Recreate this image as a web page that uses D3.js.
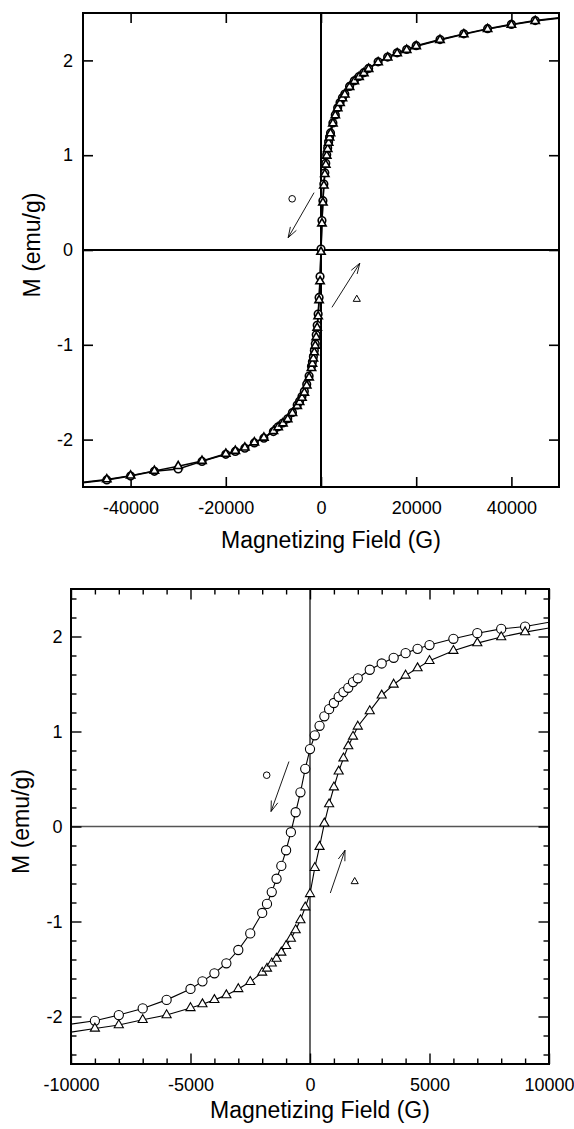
<!DOCTYPE html>
<html><head><meta charset="utf-8">
<script src="https://cdn.jsdelivr.net/npm/d3@7"></script>
<style>
html,body{margin:0;padding:0;background:#fff;}
svg{display:block;font-family:"Liberation Sans",Arial,Helvetica,sans-serif;}
</style></head><body>
<svg id="chart" width="574" height="1129"></svg>
<script>
// ---------- DATA ----------
// Top panel (full field range)
const topField = [-50000,-45000,-40000,-35000,-30000,-25000,-20000,-18000,-16000,-14000,-12000,-10000,-9000,-8000,-7000,-6000,-5000,-4500,-4000,-3500,-3000,-2500,-2000,-1800,-1600,-1400,-1200,-1000,-800,-600,-400,-200,0,200,400,600,800,1000,1200,1400,1600,1800,2000,2500,3000,3500,4000,4500,5000,6000,7000,8000,9000,10000,12000,14000,16000,18000,20000,25000,30000,35000,40000,45000,50000];
const topDescM = [-2.455,-2.425,-2.385,-2.335,-2.31,-2.23,-2.155,-2.125,-2.09,-2.035,-1.985,-1.915,-1.865,-1.825,-1.78,-1.715,-1.635,-1.595,-1.545,-1.49,-1.415,-1.33,-1.225,-1.18,-1.125,-1.06,-0.99,-0.895,-0.795,-0.675,-0.50,-0.28,0.01,0.31,0.52,0.695,0.815,0.915,1.005,1.075,1.14,1.19,1.235,1.34,1.425,1.50,1.555,1.605,1.645,1.725,1.785,1.83,1.87,1.915,1.985,2.035,2.08,2.115,2.155,2.22,2.28,2.335,2.38,2.42,2.45];
const topAscM = [-2.45,-2.42,-2.38,-2.33,-2.28,-2.225,-2.15,-2.12,-2.085,-2.03,-1.98,-1.91,-1.87,-1.83,-1.785,-1.72,-1.645,-1.605,-1.56,-1.505,-1.43,-1.345,-1.245,-1.20,-1.145,-1.08,-1.01,-0.92,-0.82,-0.70,-0.53,-0.33,-0.02,0.28,0.50,0.68,0.80,0.90,0.995,1.065,1.13,1.185,1.23,1.335,1.42,1.495,1.55,1.60,1.64,1.72,1.78,1.825,1.865,1.91,1.98,2.03,2.075,2.11,2.15,2.215,2.275,2.33,2.375,2.415,2.445];
const topXTicks = [-40000,-20000,0,20000,40000];
const topYTicks = [-2,-1,0,1,2];

// Bottom panel (low-field detail)
const botField = [-10000,-9000,-8000,-7000,-6000,-5000,-4500,-4000,-3500,-3000,-2500,-2000,-1800,-1600,-1400,-1200,-1000,-800,-600,-400,-200,0,200,400,600,800,1000,1200,1400,1600,1800,2000,2500,3000,3500,4000,4500,5000,6000,7000,8000,9000,10000];
const botDescM = [-2.08,-2.045,-1.985,-1.915,-1.825,-1.71,-1.63,-1.545,-1.44,-1.30,-1.125,-0.91,-0.815,-0.69,-0.55,-0.415,-0.25,-0.06,0.15,0.36,0.607,0.815,0.96,1.06,1.16,1.235,1.30,1.365,1.415,1.46,1.52,1.56,1.65,1.716,1.776,1.825,1.87,1.91,1.976,2.035,2.08,2.105,2.15];
const botAscM = [-2.165,-2.126,-2.09,-2.035,-1.985,-1.91,-1.87,-1.825,-1.775,-1.71,-1.635,-1.537,-1.495,-1.44,-1.39,-1.326,-1.256,-1.18,-1.09,-0.985,-0.85,-0.71,-0.435,-0.213,0.033,0.235,0.413,0.58,0.718,0.846,0.947,1.053,1.215,1.38,1.495,1.59,1.667,1.744,1.85,1.93,1.994,2.046,2.09];
const botXTicks = [-10000,-5000,0,5000,10000];
const botXMinor = [-9000,-8000,-7000,-6000,-4000,-3000,-2000,-1000,1000,2000,3000,4000,6000,7000,8000,9000];
const botYTicks = [-2,-1,0,1,2];
const botYMinor = [-2.4,-2.2,-1.8,-1.6,-1.4,-1.2,-0.8,-0.6,-0.4,-0.2,0.2,0.4,0.6,0.8,1.2,1.4,1.6,1.8,2.2,2.4];

// Annotations (data coordinates)
const topLegendCircle = [-6060, 0.54];
const topLegendTriangle = [7520, -0.52];
const topArrowDown = [[-1460, 0.605], [-6900, 0.13]];
const topArrowUp = [[2300, -0.605], [8150, -0.14]];
const botLegendCircle = [-1812, 0.54];
const botLegendTriangle = [1870, -0.58];
const botArrowDown = [[-880, 0.684], [-1630, 0.158]];
const botArrowUp = [[850, -0.70], [1464, -0.25]];

const xTitle = "Magnetizing Field (G)";
const yTitle = "M (emu/g)";

// ---------- DRAW ----------
const svg = d3.select("#chart");
const fmt = d => String(d);

function panel(cfg) {
  const {id, xDomain, yDomain, left, right, top, bottom} = cfg;
  const x = d3.scaleLinear(xDomain, [left, right]);
  const y = d3.scaleLinear(yDomain, [bottom, top]);
  const g = svg.append("g");

  g.append("clipPath").attr("id", "clip" + id).append("rect")
    .attr("x", left).attr("y", top).attr("width", right - left).attr("height", bottom - top);

  // zero lines
  g.append("line").attr("x1", left).attr("x2", right).attr("y1", y(0)).attr("y2", y(0))
    .attr("stroke", cfg.zeroH).attr("stroke-width", cfg.zeroW);
  g.append("line").attr("x1", x(0)).attr("x2", x(0)).attr("y1", top).attr("y2", bottom)
    .attr("stroke", "#000").attr("stroke-width", cfg.zeroVW);

  const styleAxis = (sel, w) => {
    sel.select(".domain").remove();
    sel.selectAll(".tick line").attr("stroke", "#000").attr("stroke-width", w);
    sel.selectAll("text").attr("fill", "#000").attr("font-size", cfg.tickFont)
      .attr("font-family", '"Liberation Sans",Arial,Helvetica,sans-serif');
  };

  // minor ticks
  if (cfg.xMinor) {
    g.append("g").attr("transform", `translate(0,${bottom})`)
      .call(d3.axisBottom(x).tickValues(cfg.xMinor).tickSize(-cfg.minorLen).tickFormat(""))
      .call(s => styleAxis(s, cfg.tickW));
    g.append("g").attr("transform", `translate(0,${top})`)
      .call(d3.axisTop(x).tickValues(cfg.xMinor).tickSize(-cfg.minorLen).tickFormat(""))
      .call(s => styleAxis(s, cfg.tickW));
    g.append("g").attr("transform", `translate(${left},0)`)
      .call(d3.axisLeft(y).tickValues(cfg.yMinor).tickSize(-cfg.minorLen).tickFormat(""))
      .call(s => styleAxis(s, cfg.tickW));
    g.append("g").attr("transform", `translate(${right},0)`)
      .call(d3.axisRight(y).tickValues(cfg.yMinor).tickSize(-cfg.minorLen).tickFormat(""))
      .call(s => styleAxis(s, cfg.tickW));
  }
  // major ticks
  g.append("g").attr("transform", `translate(0,${bottom})`)
    .call(d3.axisBottom(x).tickValues(cfg.xTicks).tickSize(-cfg.majorLen).tickPadding(cfg.xPad).tickFormat(fmt))
    .call(s => styleAxis(s, cfg.tickW));
  g.append("g").attr("transform", `translate(0,${top})`)
    .call(d3.axisTop(x).tickValues(cfg.xTicks).tickSize(-cfg.majorLen).tickFormat(""))
    .call(s => styleAxis(s, cfg.tickW));
  g.append("g").attr("transform", `translate(${left},0)`)
    .call(d3.axisLeft(y).tickValues(cfg.yTicks).tickSize(-cfg.majorLen).tickPadding(cfg.yPad).tickFormat(fmt))
    .call(s => styleAxis(s, cfg.tickW));
  g.append("g").attr("transform", `translate(${right},0)`)
    .call(d3.axisRight(y).tickValues(cfg.yTicks).tickSize(-cfg.majorLen).tickFormat(""))
    .call(s => styleAxis(s, cfg.tickW));

  // series
  const line = d3.line().x(d => x(d[0])).y(d => y(d[1]));
  const desc = cfg.field.map((f, i) => [f, cfg.descM[i]]);
  const asc = cfg.field.map((f, i) => [f, cfg.ascM[i]]);
  const plot = g.append("g").attr("clip-path", `url(#clip${id})`);
  [desc, asc].forEach(s => plot.append("path").attr("d", line(s))
    .attr("fill", "none").attr("stroke", "#000").attr("stroke-width", cfg.lineW));

  const inside = d => d[0] > xDomain[0] && d[0] < xDomain[1];
  const circ = d3.symbol(d3.symbolCircle, Math.PI * cfg.r * cfg.r);
  const tri = d3.symbol(d3.symbolTriangle, cfg.triArea);
  plot.selectAll(".c").data(desc.filter(inside)).join("path").attr("d", circ)
    .attr("transform", d => `translate(${x(d[0])},${y(d[1])})`)
    .attr("fill", "#fff").attr("stroke", "#000").attr("stroke-width", cfg.markW);
  plot.selectAll(".t").data(asc.filter(inside)).join("path").attr("d", tri)
    .attr("transform", d => `translate(${x(d[0])},${y(d[1])})`)
    .attr("fill", "#fff").attr("stroke", "#000").attr("stroke-width", cfg.markW);

  // annotations
  const aC = d3.symbol(d3.symbolCircle, Math.PI * 3.3 * 3.3);
  const aT = d3.symbol(d3.symbolTriangle, 22);
  g.append("path").attr("d", aC).attr("transform", `translate(${x(cfg.legC[0])},${y(cfg.legC[1])})`)
    .attr("fill", "none").attr("stroke", "#000").attr("stroke-width", 1);
  g.append("path").attr("d", aT).attr("transform", `translate(${x(cfg.legT[0])},${y(cfg.legT[1])})`)
    .attr("fill", "none").attr("stroke", "#000").attr("stroke-width", 1);
  [cfg.arrow1, cfg.arrow2].forEach(a => {
    const x1 = x(a[0][0]), y1 = y(a[0][1]), x2 = x(a[1][0]), y2 = y(a[1][1]);
    const ang = Math.atan2(y2 - y1, x2 - x1);
    const L = 11, h = 0.32;
    const p = d3.path();
    p.moveTo(x1, y1); p.lineTo(x2, y2);
    p.moveTo(x2 - L * Math.cos(ang - h), y2 - L * Math.sin(ang - h)); p.lineTo(x2, y2);
    p.lineTo(x2 - L * Math.cos(ang + h), y2 - L * Math.sin(ang + h));
    g.append("path").attr("d", p.toString()).attr("fill", "none")
      .attr("stroke", "#000").attr("stroke-width", 0.9);
  });

  // frame
  g.append("rect").attr("x", left).attr("y", top).attr("width", right - left).attr("height", bottom - top)
    .attr("fill", "none").attr("stroke", "#000").attr("stroke-width", cfg.frameW);

  // titles
  g.append("text").attr("x", (left + right) / 2 + 10).attr("y", bottom + cfg.xTitleOff)
    .attr("text-anchor", "middle").attr("font-size", 23).attr("fill", "#000").text(xTitle);
  g.append("text").attr("transform", `translate(${left - cfg.yTitleOff},${(top + bottom) / 2 - 5}) rotate(-90)`)
    .attr("text-anchor", "middle").attr("font-size", 23).attr("fill", "#000").text(yTitle);
}

panel({id: "A", xDomain: [-50000, 50000], yDomain: [-2.5, 2.5], left: 83, right: 559, top: 13, bottom: 487,
  field: topField, descM: topDescM, ascM: topAscM, xTicks: topXTicks, yTicks: topYTicks,
  majorLen: 10, tickW: 1.6, tickFont: 18, xPad: 14.5, yPad: 10, zeroH: "#000", zeroW: 2, zeroVW: 2,
  lineW: 1.5, r: 3.8, triArea: 30, markW: 1.6, frameW: 2, xTitleOff: 61, yTitleOff: 43.5,
  legC: topLegendCircle, legT: topLegendTriangle, arrow1: topArrowDown, arrow2: topArrowUp});

panel({id: "B", xDomain: [-10000, 10000], yDomain: [-2.5, 2.5], left: 71, right: 549, top: 589, bottom: 1064,
  field: botField, descM: botDescM, ascM: botAscM, xTicks: botXTicks, yTicks: botYTicks,
  xMinor: botXMinor, yMinor: botYMinor, minorLen: 5.5,
  majorLen: 10.5, tickW: 1.4, tickFont: 18, xPad: 14, yPad: 8.5, zeroH: "#555", zeroW: 1.6, zeroVW: 1.2,
  lineW: 1.1, r: 4.6, triArea: 36, markW: 1.1, frameW: 2, xTitleOff: 54, yTitleOff: 42.5,
  legC: botLegendCircle, legT: botLegendTriangle, arrow1: botArrowDown, arrow2: botArrowUp});
</script>
</body></html>
